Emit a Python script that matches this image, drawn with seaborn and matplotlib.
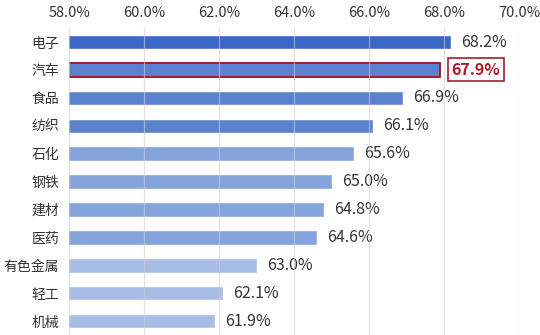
import matplotlib
matplotlib.use("Agg")
import matplotlib.pyplot as plt
import seaborn as sns
import pandas as pd

categories = ["电子", "汽车", "食品", "纺织", "石化", "钢铁", "建材", "医药", "有色金属", "轻工", "机械"]
values = [68.2, 67.9, 66.9, 66.1, 65.6, 65.0, 64.8, 64.6, 63.0, 62.1, 61.9]
colors = ["#3d67c6", "#5a80cf", "#5b82d0", "#5a82cd", "#85a4dc", "#85a4dc", "#85a4dc",
          "#85a4dc", "#a8bde6", "#a8bde6", "#a8bde6"]
xticks = [58, 60, 62, 64, 66, 68, 70]
highlight = "汽车"

sns.set_theme(style="white")
plt.rcParams['font.family'] = ['Noto Sans CJK SC', 'DejaVu Sans']

df = pd.DataFrame({"cat": categories, "val": values})

fig = plt.figure(figsize=(5.4, 3.35), dpi=100)
ax = fig.add_axes([0.128, 0.0, 0.833, 0.916])

sns.barplot(data=df, y="cat", x="val", hue="cat", palette=colors, orient="h",
            width=0.52, legend=False, ax=ax, saturation=1)

ax.set_xlim(58, 70)
ax.set_ylim(len(categories) - 0.5, -0.5)
ax.set_xticks(xticks)
ax.set_xticklabels([f"{t:.1f}%" for t in xticks], fontsize=10.5, color="#333333")
ax.xaxis.tick_top()
ax.tick_params(axis="x", length=0, pad=6)
ax.tick_params(axis="y", length=0, pad=7, labelsize=10, labelcolor="#333333")
ax.set_xlabel("")
ax.set_ylabel("")
for s in ax.spines.values():
    s.set_visible(False)
for t in xticks:
    ax.axvline(t, color="#d0d0d0", lw=0.9, alpha=0.6, zorder=5)

for i, (c, v) in enumerate(zip(categories, values)):
    if c == highlight:
        patch = ax.patches[i]
        patch.set_edgecolor("#a51c30")
        patch.set_linewidth(1.4)
        ax.text(v + 0.3, i, f"{v:.1f}%", va="center", ha="left", fontsize=11.5,
                fontweight="bold", color="#b0172a",
                bbox=dict(boxstyle="square,pad=0.22", fc="white", ec="#a51c30", lw=1.2))
    else:
        ax.text(v + 0.27, i, f"{v:.1f}%", va="center", ha="left", fontsize=11.5,
                color="#333333")

fig.savefig("out.png", dpi=100)
